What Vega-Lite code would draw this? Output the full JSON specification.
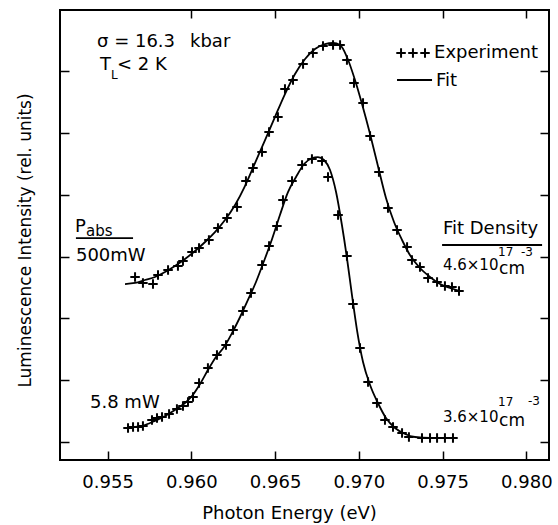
{
  "$schema": "https://vega.github.io/schema/vega-lite/v6.json",
  "width": 489,
  "height": 450,
  "autosize": {"type": "none"},
  "padding": {"left": 60, "top": 10, "right": 9, "bottom": 65},
  "background": "white",
  "config": {
    "view": {"stroke": "black", "strokeWidth": 2},
    "font": "DejaVu Sans",
    "axis": {"grid": false, "domain": false, "tickColor": "black", "tickWidth": 1.5, "labelColor": "black", "titleColor": "black", "labelFont": "DejaVu Sans", "titleFont": "DejaVu Sans", "titleFontWeight": "normal"}
  },
  "datasets": {
    "exp": [
      {"E": 0.95664, "I": 2.669, "series": "500mW"}, {"E": 0.95711, "I": 2.572, "series": "500mW"}, {"E": 0.95771, "I": 2.555, "series": "500mW"}, {"E": 0.95801, "I": 2.701, "series": "500mW"}, {"E": 0.95861, "I": 2.782, "series": "500mW"}, {"E": 0.9592, "I": 2.847, "series": "500mW"}, {"E": 0.9595, "I": 2.927, "series": "500mW"}, {"E": 0.96004, "I": 3.073, "series": "500mW"}, {"E": 0.96046, "I": 3.138, "series": "500mW"}, {"E": 0.96105, "I": 3.267, "series": "500mW"}, {"E": 0.96159, "I": 3.461, "series": "500mW"}, {"E": 0.96213, "I": 3.623, "series": "500mW"}, {"E": 0.96273, "I": 3.801, "series": "500mW"}, {"E": 0.96326, "I": 4.221, "series": "500mW"}, {"E": 0.96368, "I": 4.431, "series": "500mW"}, {"E": 0.96422, "I": 4.69, "series": "500mW"}, {"E": 0.96464, "I": 5.014, "series": "500mW"}, {"E": 0.96517, "I": 5.256, "series": "500mW"}, {"E": 0.96559, "I": 5.709, "series": "500mW"}, {"E": 0.96607, "I": 5.855, "series": "500mW"}, {"E": 0.96667, "I": 6.114, "series": "500mW"}, {"E": 0.96726, "I": 6.291, "series": "500mW"}, {"E": 0.96786, "I": 6.405, "series": "500mW"}, {"E": 0.96846, "I": 6.421, "series": "500mW"}, {"E": 0.96888, "I": 6.421, "series": "500mW"}, {"E": 0.96929, "I": 6.178, "series": "500mW"}, {"E": 0.96971, "I": 5.806, "series": "500mW"}, {"E": 0.97025, "I": 5.483, "series": "500mW"}, {"E": 0.97067, "I": 4.949, "series": "500mW"}, {"E": 0.9712, "I": 4.367, "series": "500mW"}, {"E": 0.97174, "I": 3.785, "series": "500mW"}, {"E": 0.97228, "I": 3.429, "series": "500mW"}, {"E": 0.97288, "I": 3.154, "series": "500mW"}, {"E": 0.97317, "I": 2.944, "series": "500mW"}, {"E": 0.97365, "I": 2.83, "series": "500mW"}, {"E": 0.97413, "I": 2.652, "series": "500mW"}, {"E": 0.97467, "I": 2.588, "series": "500mW"}, {"E": 0.97514, "I": 2.523, "series": "500mW"}, {"E": 0.97556, "I": 2.507, "series": "500mW"}, {"E": 0.97598, "I": 2.442, "series": "500mW"},
      {"E": 0.95622, "I": 0.226, "series": "5.8mW"}, {"E": 0.95652, "I": 0.243, "series": "5.8mW"}, {"E": 0.95682, "I": 0.243, "series": "5.8mW"}, {"E": 0.95711, "I": 0.259, "series": "5.8mW"}, {"E": 0.95765, "I": 0.356, "series": "5.8mW"}, {"E": 0.95795, "I": 0.388, "series": "5.8mW"}, {"E": 0.95825, "I": 0.404, "series": "5.8mW"}, {"E": 0.95867, "I": 0.453, "series": "5.8mW"}, {"E": 0.95914, "I": 0.534, "series": "5.8mW"}, {"E": 0.9595, "I": 0.582, "series": "5.8mW"}, {"E": 0.9598, "I": 0.647, "series": "5.8mW"}, {"E": 0.9601, "I": 0.728, "series": "5.8mW"}, {"E": 0.96046, "I": 0.954, "series": "5.8mW"}, {"E": 0.96099, "I": 1.197, "series": "5.8mW"}, {"E": 0.96153, "I": 1.407, "series": "5.8mW"}, {"E": 0.96207, "I": 1.569, "series": "5.8mW"}, {"E": 0.96249, "I": 1.811, "series": "5.8mW"}, {"E": 0.96308, "I": 2.119, "series": "5.8mW"}, {"E": 0.96356, "I": 2.41, "series": "5.8mW"}, {"E": 0.96422, "I": 2.863, "series": "5.8mW"}, {"E": 0.96464, "I": 3.17, "series": "5.8mW"}, {"E": 0.96511, "I": 3.493, "series": "5.8mW"}, {"E": 0.96547, "I": 3.914, "series": "5.8mW"}, {"E": 0.96601, "I": 4.221, "series": "5.8mW"}, {"E": 0.96661, "I": 4.48, "series": "5.8mW"}, {"E": 0.9672, "I": 4.577, "series": "5.8mW"}, {"E": 0.9678, "I": 4.545, "series": "5.8mW"}, {"E": 0.96816, "I": 4.286, "series": "5.8mW"}, {"E": 0.96876, "I": 3.671, "series": "5.8mW"}, {"E": 0.96929, "I": 3.008, "series": "5.8mW"}, {"E": 0.96965, "I": 2.232, "series": "5.8mW"}, {"E": 0.97007, "I": 1.52, "series": "5.8mW"}, {"E": 0.97055, "I": 0.97, "series": "5.8mW"}, {"E": 0.97108, "I": 0.631, "series": "5.8mW"}, {"E": 0.97156, "I": 0.356, "series": "5.8mW"}, {"E": 0.97204, "I": 0.243, "series": "5.8mW"}, {"E": 0.97258, "I": 0.146, "series": "5.8mW"}, {"E": 0.97299, "I": 0.081, "series": "5.8mW"}, {"E": 0.97377, "I": 0.065, "series": "5.8mW"}, {"E": 0.97425, "I": 0.065, "series": "5.8mW"}, {"E": 0.97467, "I": 0.065, "series": "5.8mW"}, {"E": 0.97514, "I": 0.065, "series": "5.8mW"}, {"E": 0.97562, "I": 0.065, "series": "5.8mW"}
    ],
    "fit": [
      {"E": 0.95604, "I": 2.555, "series": "500mW"}, {"E": 0.95664, "I": 2.572, "series": "500mW"}, {"E": 0.95723, "I": 2.62, "series": "500mW"}, {"E": 0.95783, "I": 2.669, "series": "500mW"}, {"E": 0.95843, "I": 2.749, "series": "500mW"}, {"E": 0.95902, "I": 2.847, "series": "500mW"}, {"E": 0.95962, "I": 2.96, "series": "500mW"}, {"E": 0.96022, "I": 3.089, "series": "500mW"}, {"E": 0.96082, "I": 3.235, "series": "500mW"}, {"E": 0.96141, "I": 3.396, "series": "500mW"}, {"E": 0.96201, "I": 3.59, "series": "500mW"}, {"E": 0.96261, "I": 3.833, "series": "500mW"}, {"E": 0.9632, "I": 4.14, "series": "500mW"}, {"E": 0.9638, "I": 4.512, "series": "500mW"}, {"E": 0.9644, "I": 4.884, "series": "500mW"}, {"E": 0.96499, "I": 5.256, "series": "500mW"}, {"E": 0.96559, "I": 5.628, "series": "500mW"}, {"E": 0.96619, "I": 5.952, "series": "500mW"}, {"E": 0.96679, "I": 6.194, "series": "500mW"}, {"E": 0.96738, "I": 6.356, "series": "500mW"}, {"E": 0.96798, "I": 6.437, "series": "500mW"}, {"E": 0.96846, "I": 6.453, "series": "500mW"}, {"E": 0.96888, "I": 6.421, "series": "500mW"}, {"E": 0.96929, "I": 6.227, "series": "500mW"}, {"E": 0.96977, "I": 5.855, "series": "500mW"}, {"E": 0.97019, "I": 5.467, "series": "500mW"}, {"E": 0.97067, "I": 4.981, "series": "500mW"}, {"E": 0.97114, "I": 4.464, "series": "500mW"}, {"E": 0.97162, "I": 3.946, "series": "500mW"}, {"E": 0.9721, "I": 3.558, "series": "500mW"}, {"E": 0.97258, "I": 3.267, "series": "500mW"}, {"E": 0.97305, "I": 3.024, "series": "500mW"}, {"E": 0.97365, "I": 2.814, "series": "500mW"}, {"E": 0.97425, "I": 2.669, "series": "500mW"}, {"E": 0.97485, "I": 2.555, "series": "500mW"}, {"E": 0.97544, "I": 2.491, "series": "500mW"}, {"E": 0.97604, "I": 2.442, "series": "500mW"},
      {"E": 0.95604, "I": 0.226, "series": "5.8mW"}, {"E": 0.95664, "I": 0.243, "series": "5.8mW"}, {"E": 0.95723, "I": 0.275, "series": "5.8mW"}, {"E": 0.95783, "I": 0.34, "series": "5.8mW"}, {"E": 0.95843, "I": 0.421, "series": "5.8mW"}, {"E": 0.95902, "I": 0.518, "series": "5.8mW"}, {"E": 0.95962, "I": 0.631, "series": "5.8mW"}, {"E": 0.96004, "I": 0.744, "series": "5.8mW"}, {"E": 0.96052, "I": 0.938, "series": "5.8mW"}, {"E": 0.96099, "I": 1.164, "series": "5.8mW"}, {"E": 0.96147, "I": 1.375, "series": "5.8mW"}, {"E": 0.96195, "I": 1.536, "series": "5.8mW"}, {"E": 0.96243, "I": 1.763, "series": "5.8mW"}, {"E": 0.96291, "I": 2.022, "series": "5.8mW"}, {"E": 0.96338, "I": 2.297, "series": "5.8mW"}, {"E": 0.96386, "I": 2.588, "series": "5.8mW"}, {"E": 0.96434, "I": 2.927, "series": "5.8mW"}, {"E": 0.96482, "I": 3.283, "series": "5.8mW"}, {"E": 0.96529, "I": 3.671, "series": "5.8mW"}, {"E": 0.96577, "I": 4.043, "series": "5.8mW"}, {"E": 0.96625, "I": 4.286, "series": "5.8mW"}, {"E": 0.96673, "I": 4.496, "series": "5.8mW"}, {"E": 0.9672, "I": 4.593, "series": "5.8mW"}, {"E": 0.96756, "I": 4.609, "series": "5.8mW"}, {"E": 0.96792, "I": 4.561, "series": "5.8mW"}, {"E": 0.96828, "I": 4.399, "series": "5.8mW"}, {"E": 0.96864, "I": 4.043, "series": "5.8mW"}, {"E": 0.96899, "I": 3.51, "series": "5.8mW"}, {"E": 0.96929, "I": 2.976, "series": "5.8mW"}, {"E": 0.96959, "I": 2.377, "series": "5.8mW"}, {"E": 0.96989, "I": 1.811, "series": "5.8mW"}, {"E": 0.97025, "I": 1.294, "series": "5.8mW"}, {"E": 0.97067, "I": 0.922, "series": "5.8mW"}, {"E": 0.97114, "I": 0.631, "series": "5.8mW"}, {"E": 0.97162, "I": 0.388, "series": "5.8mW"}, {"E": 0.97216, "I": 0.226, "series": "5.8mW"}, {"E": 0.97276, "I": 0.129, "series": "5.8mW"}, {"E": 0.97335, "I": 0.081, "series": "5.8mW"}, {"E": 0.97425, "I": 0.065, "series": "5.8mW"}, {"E": 0.97514, "I": 0.065, "series": "5.8mW"}, {"E": 0.97586, "I": 0.065, "series": "5.8mW"}
    ],
    "legendPts": [
      {"E": 0.97252, "I": 6.291}, {"E": 0.97323, "I": 6.291}, {"E": 0.97395, "I": 6.291}
    ],
    "rules": [
      {"E": 0.97228, "E2": 0.97437, "I": 5.855},
      {"E": 0.95311, "E2": 0.95652, "I": 3.299},
      {"E": 0.97497, "E2": 0.98094, "I": 3.186}
    ],
    "labels": [
      {"E": 0.95437, "I": 6.469, "label": "σ = 16.3", "kind": "big"},
      {"E": 0.95992, "I": 6.469, "label": "kbar", "kind": "big"},
      {"E": 0.95455, "I": 6.097, "label": "T", "kind": "big"},
      {"E": 0.95556, "I": 6.097, "label": "< 2 K", "kind": "big"},
      {"E": 0.97449, "I": 6.291, "label": "Experiment", "kind": "big"},
      {"E": 0.97461, "I": 5.839, "label": "Fit", "kind": "big"},
      {"E": 0.95305, "I": 3.477, "label": "P", "kind": "big"},
      {"E": 0.95371, "I": 3.413, "label": "abs", "kind": "mid"},
      {"E": 0.95311, "I": 3.008, "label": "500mW", "kind": "big"},
      {"E": 0.97502, "I": 3.445, "label": "Fit Density", "kind": "big"},
      {"E": 0.97502, "I": 2.863, "label": "4.6×10", "kind": "mid"},
      {"E": 0.97837, "I": 2.798, "label": "cm", "kind": "cm"},
      {"E": 0.95395, "I": 0.631, "label": "5.8 mW", "kind": "big"},
      {"E": 0.97502, "I": 0.404, "label": "3.6×10", "kind": "mid"},
      {"E": 0.97837, "I": 0.34, "label": "cm", "kind": "cm"},
      {"E": 0.9552, "I": 5.936, "label": "L", "kind": "small"},
      {"E": 0.97831, "I": 3.07, "label": "17", "kind": "small"},
      {"E": 0.97968, "I": 3.07, "label": "-3", "kind": "small"},
      {"E": 0.97831, "I": 0.647, "label": "17", "kind": "small"},
      {"E": 0.9801, "I": 0.663, "label": "-3", "kind": "small"}
    ]
  },
  "resolve": {"scale": {"x": "shared", "y": "shared"}, "axis": {"x": "independent", "y": "independent"}},
  "layer": [
    {
      "data": {"name": "fit"},
      "mark": {"type": "line", "color": "black", "strokeWidth": 1.8, "interpolate": "monotone"},
      "encoding": {
        "x": {"field": "E", "type": "quantitative", "scale": {"domain": [0.952159, 0.981353], "nice": false, "zero": false},
          "axis": {"orient": "bottom", "values": [0.955, 0.96, 0.965, 0.97, 0.975, 0.98], "format": ".3f", "tickSize": -9, "labelFontSize": 18, "labelPadding": 31, "labelBaseline": "middle", "labelFlush": false, "title": "Photon Energy (eV)", "titleFontSize": 18, "titleX": 229, "titleY": 53, "titleBaseline": "middle", "titleAlign": "center"}},
        "y": {"field": "I", "type": "quantitative", "scale": {"domain": [-0.291, 6.987], "nice": false, "zero": false},
          "axis": {"orient": "left", "values": [0, 1, 2, 3, 4, 5, 6], "labels": false, "tickSize": -9, "title": "Luminescence Intensity (rel. units)", "titleFontSize": 17, "titleX": -35, "titleY": 230, "titleAngle": 270, "titleBaseline": "middle", "titleAlign": "center"}},
        "detail": {"field": "series"}
      }
    },
    {
      "data": {"name": "exp"},
      "mark": {"type": "point", "shape": "M-1,0L1,0M0,-1L0,1", "size": 90, "filled": false, "stroke": "black", "strokeWidth": 2, "opacity": 1},
      "encoding": {
        "x": {"field": "E", "type": "quantitative", "axis": {"orient": "top", "values": [0.96, 0.965, 0.97, 0.975, 0.98], "labels": false, "tickSize": -8, "title": null}},
        "y": {"field": "I", "type": "quantitative", "axis": {"orient": "right", "values": [0, 1, 2, 3, 4, 5, 6], "labels": false, "tickSize": -9, "title": null}}
      }
    },
    {
      "data": {"name": "legendPts"},
      "mark": {"type": "point", "shape": "M-1,0L1,0M0,-1L0,1", "size": 90, "filled": false, "stroke": "black", "strokeWidth": 2, "opacity": 1},
      "encoding": {
        "x": {"field": "E", "type": "quantitative", "axis": null},
        "y": {"field": "I", "type": "quantitative", "axis": null}
      }
    },
    {
      "data": {"name": "rules"},
      "mark": {"type": "rule", "color": "black", "strokeWidth": 1.8},
      "encoding": {
        "x": {"field": "E", "type": "quantitative", "axis": null},
        "x2": {"field": "E2"},
        "y": {"field": "I", "type": "quantitative", "axis": null}
      }
    },
    {
      "data": {"name": "labels"},
      "transform": [{"filter": "datum.kind === 'big'"}],
      "mark": {"type": "text", "align": "left", "baseline": "middle", "fontSize": 18, "font": "DejaVu Sans", "color": "black"},
      "encoding": {
        "x": {"field": "E", "type": "quantitative", "axis": null},
        "y": {"field": "I", "type": "quantitative", "axis": null},
        "text": {"field": "label"}
      }
    },
    {
      "data": {"name": "labels"},
      "transform": [{"filter": "datum.kind === 'cm'"}],
      "mark": {"type": "text", "align": "left", "baseline": "middle", "fontSize": 17, "font": "DejaVu Sans", "color": "black"},
      "encoding": {
        "x": {"field": "E", "type": "quantitative", "axis": null},
        "y": {"field": "I", "type": "quantitative", "axis": null},
        "text": {"field": "label"}
      }
    },
    {
      "data": {"name": "labels"},
      "transform": [{"filter": "datum.kind === 'mid'"}],
      "mark": {"type": "text", "align": "left", "baseline": "middle", "fontSize": 15, "font": "DejaVu Sans", "color": "black"},
      "encoding": {
        "x": {"field": "E", "type": "quantitative", "axis": null},
        "y": {"field": "I", "type": "quantitative", "axis": null},
        "text": {"field": "label"}
      }
    },
    {
      "data": {"name": "labels"},
      "transform": [{"filter": "datum.kind === 'small'"}],
      "mark": {"type": "text", "align": "left", "baseline": "middle", "fontSize": 12, "font": "DejaVu Sans", "color": "black"},
      "encoding": {
        "x": {"field": "E", "type": "quantitative", "axis": null},
        "y": {"field": "I", "type": "quantitative", "axis": null},
        "text": {"field": "label"}
      }
    }
  ]
}
